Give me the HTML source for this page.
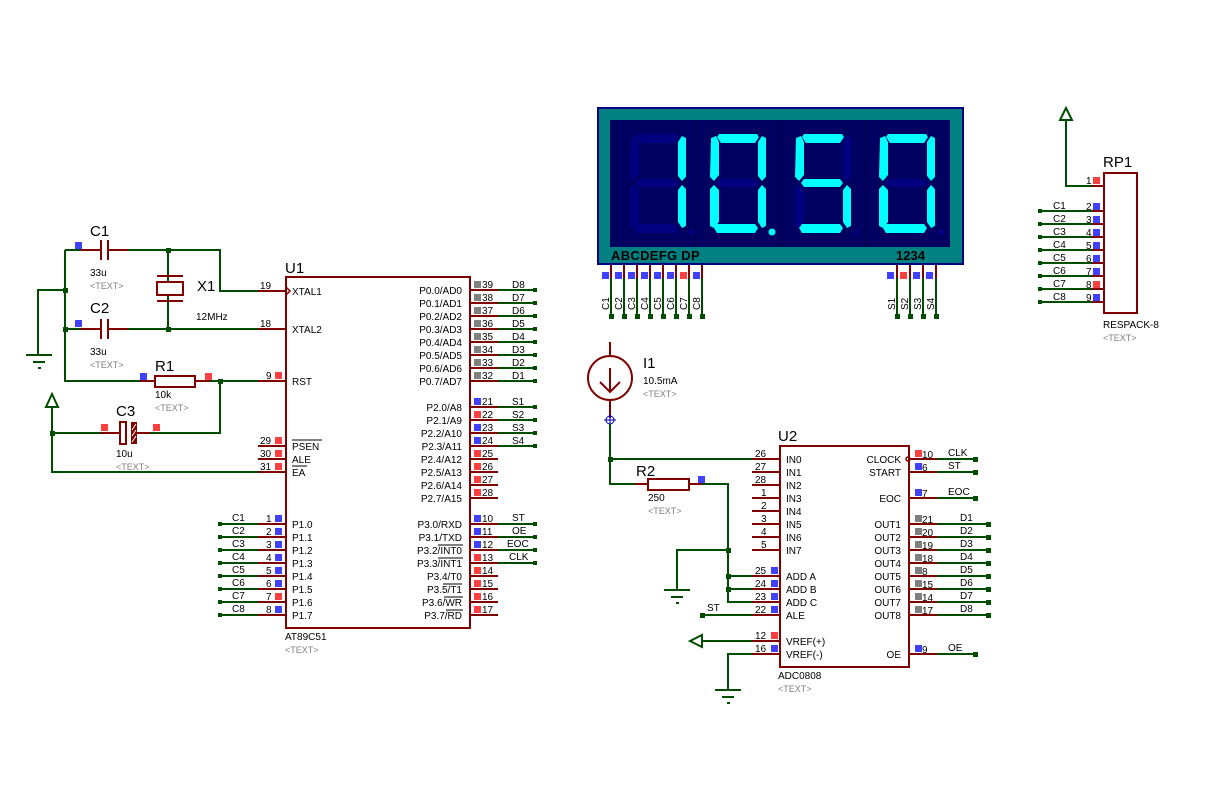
<!DOCTYPE html>
<html><head><meta charset="utf-8"><style>
html,body{margin:0;padding:0;background:#fff}
svg{display:block}
text{font-family:"Liberation Sans",sans-serif;font-size:10px;fill:#000}
.t{font-size:15px}
.g{fill:#808080;font-size:9px}
.w{stroke:#004d00;stroke-width:2;fill:none}
.p{stroke:#800000;stroke-width:2;fill:none}
.b{stroke:#800000;stroke-width:2;fill:#fff}
.bl{fill:#4040ff}.rd{fill:#ff4040}.gy{fill:#808080}.dt{fill:#004d00}
.off{fill:#000080}.on{fill:#00ffff}
</style></head><body>
<svg width="1215" height="800" viewBox="0 0 1215 800" xmlns="http://www.w3.org/2000/svg">
<rect width="1215" height="800" fill="#fff"/>
<defs>
<polygon id="sT" points="24,134 62,134 64,137 60,143 26,143 22,137"/>
<polygon id="sM" points="24,179 60,179 63,183 60,187 24,187 21,183"/>
<polygon id="sB" points="22,224 60,224 63,228 60,233 22,233 19,228"/>
<polygon id="sUL" points="16,138 21,136 24,142 24,175 19,181 15,177"/>
<polygon id="sUR" points="63,142 67,136 71,138 71,177 67,181 63,176"/>
<polygon id="sLL" points="15,189 19,185 24,190 24,222 19,228 15,226"/>
<polygon id="sLR" points="63,190 67,185 71,189 71,226 67,228 63,222"/>
</defs>

<!-- ===== Left oscillator/reset ===== -->
<path class="w" d="M65,250 H100 M108,250 H220 V291 H258 M65,250 V381 H155 M195,381 H258 M65,290 H38 V355 M65,329 H100 M108,329 H258 M168,250 V281 M168,296 V329 M220,381 V433 H135 M120,433 H52 M52,405 V472 H258"/>
<path class="p" d="M80,250 H100 M108,250 H128 M80,329 H100 M108,329 H128 M140,381 H155 M195,381 H210 M100,433 H120 M135,433 H150"/>
<path class="p" d="M101,240 V260 M108,240 V260 M101,319 V339 M108,319 V339"/>
<rect x="155" y="376" width="40" height="11" class="b"/>
<path class="p" d="M157,276 H183 M157,301 H183"/>
<rect x="157" y="282" width="26" height="13" class="b"/>
<rect x="120" y="422" width="6" height="22" class="b"/>
<rect x="131" y="422" width="6" height="22" fill="#800000"/>
<path d="M132,442 L136,436 M132,436 L136,430 M132,430 L136,424" stroke="#fff" stroke-width="1"/>
<g class="dt"><rect x="166" y="248" width="5" height="5"/><rect x="63" y="288" width="5" height="5"/><rect x="63" y="327" width="5" height="5"/><rect x="166" y="327" width="5" height="5"/><rect x="218" y="379" width="5" height="5"/><rect x="50" y="431" width="5" height="5"/></g>
<path class="w" d="M26,355 H52 M33,362 H45 M38,368 H41"/>
<path d="M52,394 L46,407 H58 Z" fill="#fff" stroke="#004d00" stroke-width="2"/>
<rect class="bl" x="75" y="242" width="7" height="7"/><rect class="bl" x="75" y="320" width="7" height="7"/>
<rect class="bl" x="140" y="373" width="7" height="7"/><rect class="rd" x="205" y="373" width="7" height="7"/>
<rect class="rd" x="101" y="424" width="7" height="7"/><rect class="rd" x="153" y="424" width="7" height="7"/>
<text x="90" y="236" class="t">C1</text><text x="90" y="276">33u</text><text x="90" y="289" class="g">&lt;TEXT&gt;</text>
<text x="90" y="313" class="t">C2</text><text x="90" y="355">33u</text><text x="90" y="368" class="g">&lt;TEXT&gt;</text>
<text x="197" y="291" class="t">X1</text><text x="196" y="320">12MHz</text>
<text x="155" y="371" class="t">R1</text><text x="155" y="398">10k</text><text x="155" y="411" class="g">&lt;TEXT&gt;</text>
<text x="116" y="416" class="t">C3</text><text x="116" y="457">10u</text><text x="116" y="470" class="g">&lt;TEXT&gt;</text>

<!-- ===== U1 ===== -->
<rect x="286" y="277" width="184" height="351" class="b"/>
<text x="285" y="273" class="t">U1</text>
<text x="285" y="640">AT89C51</text><text x="285" y="653" class="g">&lt;TEXT&gt;</text>
<path class="p" d="M258,291 H286 M258,329 H286 M258,381 H286 M258,446 H286 M258,459 H286 M258,472 H286 M258,524 H286 M258,537 H286 M258,550 H286 M258,563 H286 M258,576 H286 M258,589 H286 M258,602 H286 M258,615 H286"/>
<path d="M286,287 L290,291 L286,295" stroke="#800000" stroke-width="1.5" fill="none"/>
<g>
<text x="260" y="289">19</text><text x="260" y="327">18</text><text x="266" y="379">9</text>
<text x="260" y="444">29</text><text x="260" y="457">30</text><text x="260" y="470">31</text>
<text x="266" y="522">1</text><text x="266" y="535">2</text><text x="266" y="548">3</text><text x="266" y="561">4</text><text x="266" y="574">5</text><text x="266" y="587">6</text><text x="266" y="600">7</text><text x="266" y="613">8</text>
</g>
<rect class="rd" x="275" y="372" width="7" height="7"/>
<rect class="rd" x="275" y="437" width="7" height="7"/><rect class="rd" x="275" y="450" width="7" height="7"/><rect class="rd" x="275" y="463" width="7" height="7"/>
<g class="bl"><rect x="275" y="515" width="7" height="7"/><rect x="275" y="528" width="7" height="7"/><rect x="275" y="541" width="7" height="7"/><rect x="275" y="554" width="7" height="7"/><rect x="275" y="567" width="7" height="7"/><rect x="275" y="580" width="7" height="7"/><rect x="275" y="606" width="7" height="7"/></g>
<rect class="rd" x="275" y="593" width="7" height="7"/>
<g>
<text x="292" y="295">XTAL1</text><text x="292" y="333">XTAL2</text><text x="292" y="385">RST</text>
<text x="292" y="450">PSEN</text><text x="292" y="463">ALE</text><text x="292" y="476">EA</text>
<text x="292" y="528">P1.0</text><text x="292" y="541">P1.1</text><text x="292" y="554">P1.2</text><text x="292" y="567">P1.3</text><text x="292" y="580">P1.4</text><text x="292" y="593">P1.5</text><text x="292" y="606">P1.6</text><text x="292" y="619">P1.7</text>
</g>
<path d="M292,440 H322 M292,466 H307" stroke="#000" stroke-width="1"/>
<path class="w" d="M220,524 H258 M220,537 H258 M220,550 H258 M220,563 H258 M220,576 H258 M220,589 H258 M220,602 H258 M220,615 H258"/>
<g class="dt"><rect x="218" y="522" width="4" height="4"/><rect x="218" y="535" width="4" height="4"/><rect x="218" y="548" width="4" height="4"/><rect x="218" y="561" width="4" height="4"/><rect x="218" y="574" width="4" height="4"/><rect x="218" y="587" width="4" height="4"/><rect x="218" y="600" width="4" height="4"/><rect x="218" y="613" width="4" height="4"/></g>
<g><text x="232" y="521">C1</text><text x="232" y="534">C2</text><text x="232" y="547">C3</text><text x="232" y="560">C4</text><text x="232" y="573">C5</text><text x="232" y="586">C6</text><text x="232" y="599">C7</text><text x="232" y="612">C8</text></g>

<!-- U1 right -->
<path class="p" d="M470,290 H498 M470,303 H498 M470,316 H498 M470,329 H498 M470,342 H498 M470,355 H498 M470,368 H498 M470,381 H498 M470,407 H498 M470,420 H498 M470,433 H498 M470,446 H498 M470,459 H498 M470,472 H498 M470,485 H498 M470,498 H498 M470,524 H498 M470,537 H498 M470,550 H498 M470,563 H498 M470,576 H498 M470,589 H498 M470,602 H498 M470,615 H498"/>
<g text-anchor="end">
<text x="462" y="294">P0.0/AD0</text><text x="462" y="307">P0.1/AD1</text><text x="462" y="320">P0.2/AD2</text><text x="462" y="333">P0.3/AD3</text><text x="462" y="346">P0.4/AD4</text><text x="462" y="359">P0.5/AD5</text><text x="462" y="372">P0.6/AD6</text><text x="462" y="385">P0.7/AD7</text>
<text x="462" y="411">P2.0/A8</text><text x="462" y="424">P2.1/A9</text><text x="462" y="437">P2.2/A10</text><text x="462" y="450">P2.3/A11</text><text x="462" y="463">P2.4/A12</text><text x="462" y="476">P2.5/A13</text><text x="462" y="489">P2.6/A14</text><text x="462" y="502">P2.7/A15</text>
<text x="462" y="528">P3.0/RXD</text><text x="462" y="541">P3.1/TXD</text><text x="462" y="554">P3.2/INT0</text><text x="462" y="567">P3.3/INT1</text><text x="462" y="580">P3.4/T0</text><text x="462" y="593">P3.5/T1</text><text x="462" y="606">P3.6/WR</text><text x="462" y="619">P3.7/RD</text>
</g>
<path d="M438,545 H463 M438,558 H463 M443,584 H462 M444,597 H463 M446,610 H463" stroke="#000" stroke-width="1"/>
<g class="gy"><rect x="474" y="281" width="7" height="7"/><rect x="474" y="294" width="7" height="7"/><rect x="474" y="307" width="7" height="7"/><rect x="474" y="320" width="7" height="7"/><rect x="474" y="333" width="7" height="7"/><rect x="474" y="346" width="7" height="7"/><rect x="474" y="359" width="7" height="7"/><rect x="474" y="372" width="7" height="7"/></g>
<g class="bl"><rect x="474" y="398" width="7" height="7"/><rect x="474" y="424" width="7" height="7"/><rect x="474" y="437" width="7" height="7"/><rect x="474" y="515" width="7" height="7"/><rect x="474" y="528" width="7" height="7"/><rect x="474" y="541" width="7" height="7"/></g>
<g class="rd"><rect x="474" y="411" width="7" height="7"/><rect x="474" y="450" width="7" height="7"/><rect x="474" y="463" width="7" height="7"/><rect x="474" y="476" width="7" height="7"/><rect x="474" y="489" width="7" height="7"/><rect x="474" y="554" width="7" height="7"/><rect x="474" y="567" width="7" height="7"/><rect x="474" y="580" width="7" height="7"/><rect x="474" y="593" width="7" height="7"/><rect x="474" y="606" width="7" height="7"/></g>
<g>
<text x="482" y="288">39</text><text x="482" y="301">38</text><text x="482" y="314">37</text><text x="482" y="327">36</text><text x="482" y="340">35</text><text x="482" y="353">34</text><text x="482" y="366">33</text><text x="482" y="379">32</text>
<text x="482" y="405">21</text><text x="482" y="418">22</text><text x="482" y="431">23</text><text x="482" y="444">24</text><text x="482" y="457">25</text><text x="482" y="470">26</text><text x="482" y="483">27</text><text x="482" y="496">28</text>
<text x="482" y="522">10</text><text x="482" y="535">11</text><text x="482" y="548">12</text><text x="482" y="561">13</text><text x="482" y="574">14</text><text x="482" y="587">15</text><text x="482" y="600">16</text><text x="482" y="613">17</text>
</g>
<path class="w" d="M498,290 H535 M498,303 H535 M498,316 H535 M498,329 H535 M498,342 H535 M498,355 H535 M498,368 H535 M498,381 H535 M498,407 H535 M498,420 H535 M498,433 H535 M498,446 H535 M498,524 H535 M498,537 H535 M498,550 H535 M498,563 H535"/>
<g class="dt"><rect x="533" y="288" width="4" height="4"/><rect x="533" y="301" width="4" height="4"/><rect x="533" y="314" width="4" height="4"/><rect x="533" y="327" width="4" height="4"/><rect x="533" y="340" width="4" height="4"/><rect x="533" y="353" width="4" height="4"/><rect x="533" y="366" width="4" height="4"/><rect x="533" y="379" width="4" height="4"/><rect x="533" y="405" width="4" height="4"/><rect x="533" y="418" width="4" height="4"/><rect x="533" y="431" width="4" height="4"/><rect x="533" y="444" width="4" height="4"/><rect x="533" y="522" width="4" height="4"/><rect x="533" y="535" width="4" height="4"/><rect x="533" y="548" width="4" height="4"/><rect x="533" y="561" width="4" height="4"/></g>
<g>
<text x="512" y="288">D8</text><text x="512" y="301">D7</text><text x="512" y="314">D6</text><text x="512" y="327">D5</text><text x="512" y="340">D4</text><text x="512" y="353">D3</text><text x="512" y="366">D2</text><text x="512" y="379">D1</text>
<text x="512" y="405">S1</text><text x="512" y="418">S2</text><text x="512" y="431">S3</text><text x="512" y="444">S4</text>
<text x="512" y="521">ST</text><text x="512" y="534">OE</text><text x="507" y="547">EOC</text><text x="509" y="560">CLK</text>
</g>

<!-- ===== Display ===== -->
<rect x="598" y="108" width="365" height="156" fill="#008080" stroke="#000080" stroke-width="2"/>
<rect x="610" y="120" width="340" height="127" fill="#000060"/>
<path d="M695,120 V247 M780,120 V247 M865,120 V247" stroke="#00004a" stroke-width="1"/>
<g transform="translate(615,0)">
<use href="#sT" class="off"/><use href="#sM" class="off"/><use href="#sB" class="off"/><use href="#sUL" class="off"/><use href="#sLL" class="off"/>
<use href="#sUR" class="on"/><use href="#sLR" class="on"/><circle cx="77" cy="232" r="3" class="off"/>
</g>
<g transform="translate(695,0)">
<use href="#sM" class="off"/>
<use href="#sT" class="on"/><use href="#sB" class="on"/><use href="#sUL" class="on"/><use href="#sLL" class="on"/><use href="#sUR" class="on"/><use href="#sLR" class="on"/><circle cx="77" cy="232" r="3.5" class="on"/>
</g>
<g transform="translate(780,0)">
<use href="#sUR" class="off"/><use href="#sLL" class="off"/>
<use href="#sT" class="on"/><use href="#sM" class="on"/><use href="#sB" class="on"/><use href="#sUL" class="on"/><use href="#sLR" class="on"/><circle cx="77" cy="232" r="3" class="off"/>
</g>
<g transform="translate(864,0)">
<use href="#sM" class="off"/>
<use href="#sT" class="on"/><use href="#sB" class="on"/><use href="#sUL" class="on"/><use href="#sLL" class="on"/><use href="#sUR" class="on"/><use href="#sLR" class="on"/><circle cx="77" cy="232" r="3" class="off"/>
</g>
<text x="611" y="260" style="font-weight:bold;font-size:13px;letter-spacing:0.3px">ABCDEFG DP</text>
<text x="896" y="260" style="font-weight:bold;font-size:13px">1234</text>
<path class="p" d="M611,265 V278 M624,265 V278 M637,265 V278 M650,265 V278 M663,265 V278 M676,265 V278 M689,265 V278 M702,265 V278 M897,265 V278 M910,265 V278 M923,265 V278 M936,265 V278"/>
<path class="w" d="M611,278 V316 M624,278 V316 M637,278 V316 M650,278 V316 M663,278 V316 M676,278 V316 M689,278 V316 M702,278 V316 M897,278 V316 M910,278 V316 M923,278 V316 M936,278 V316"/>
<g class="dt"><rect x="609" y="314" width="5" height="5"/><rect x="622" y="314" width="5" height="5"/><rect x="635" y="314" width="5" height="5"/><rect x="648" y="314" width="5" height="5"/><rect x="661" y="314" width="5" height="5"/><rect x="674" y="314" width="5" height="5"/><rect x="687" y="314" width="5" height="5"/><rect x="700" y="314" width="5" height="5"/><rect x="895" y="314" width="5" height="5"/><rect x="908" y="314" width="5" height="5"/><rect x="921" y="314" width="5" height="5"/><rect x="934" y="314" width="5" height="5"/></g>
<g class="bl"><rect x="602" y="272" width="7" height="7"/><rect x="615" y="272" width="7" height="7"/><rect x="628" y="272" width="7" height="7"/><rect x="641" y="272" width="7" height="7"/><rect x="654" y="272" width="7" height="7"/><rect x="667" y="272" width="7" height="7"/><rect x="693" y="272" width="7" height="7"/><rect x="887" y="272" width="7" height="7"/><rect x="913" y="272" width="7" height="7"/><rect x="926" y="272" width="7" height="7"/></g>
<g class="rd"><rect x="680" y="272" width="7" height="7"/><rect x="900" y="272" width="7" height="7"/></g>
<g>
<text transform="translate(609,310) rotate(-90)">C1</text><text transform="translate(622,310) rotate(-90)">C2</text><text transform="translate(635,310) rotate(-90)">C3</text><text transform="translate(648,310) rotate(-90)">C4</text><text transform="translate(661,310) rotate(-90)">C5</text><text transform="translate(674,310) rotate(-90)">C6</text><text transform="translate(687,310) rotate(-90)">C7</text><text transform="translate(700,310) rotate(-90)">C8</text>
<text transform="translate(895,310) rotate(-90)">S1</text><text transform="translate(908,310) rotate(-90)">S2</text><text transform="translate(921,310) rotate(-90)">S3</text><text transform="translate(934,310) rotate(-90)">S4</text>
</g>

<!-- ===== I1 ===== -->
<path class="p" d="M610,342 V356 M610,400 V418"/>
<circle cx="610" cy="378" r="22" class="b"/>
<path class="p" d="M610,368 V392 M600,382 L610,392 L620,382"/>
<circle cx="610" cy="420" r="4" fill="none" stroke="#0000c0" stroke-width="1"/>
<path d="M604,420 H616 M610,414 V426" stroke="#0000c0" stroke-width="1"/>
<text x="643" y="368" class="t">I1</text><text x="643" y="384">10.5mA</text><text x="643" y="397" class="g">&lt;TEXT&gt;</text>

<!-- ===== U2 wiring ===== -->
<path class="w" d="M610,424 V484 H635 M610,459 H752 M702,484 H728 V602 H752 M728,550 H677 V590 M728,576 H752 M728,589 H752 M702,615 H752 M702,641 H752 M752,654 H728 V690"/>
<path class="p" d="M635,484 H648 M689,484 H702"/>
<rect x="648" y="479" width="41" height="11" class="b"/>
<g class="dt"><rect x="608" y="457" width="5" height="5"/><rect x="726" y="548" width="5" height="5"/><rect x="726" y="574" width="5" height="5"/><rect x="726" y="587" width="5" height="5"/><rect x="700" y="613" width="5" height="5"/></g>
<path class="w" d="M664,590 H690 M671,597 H683 M676,603 H679 M715,690 H741 M722,697 H734 M727,703 H730"/>
<path d="M690,641 L702,635 V647 Z" fill="#fff" stroke="#004d00" stroke-width="2"/>
<rect class="bl" x="698" y="476" width="7" height="7"/>
<text x="636" y="476" class="t">R2</text><text x="648" y="501">250</text><text x="648" y="514" class="g">&lt;TEXT&gt;</text>
<text x="707" y="611">ST</text>

<!-- ===== U2 ===== -->
<rect x="780" y="446" width="129" height="221" class="b"/>
<text x="778" y="441" class="t">U2</text>
<text x="778" y="679">ADC0808</text><text x="778" y="692" class="g">&lt;TEXT&gt;</text>
<path class="p" d="M752,459 H780 M752,472 H780 M752,485 H780 M752,498 H780 M752,511 H780 M752,524 H780 M752,537 H780 M752,550 H780 M752,576 H780 M752,589 H780 M752,602 H780 M752,615 H780 M752,641 H780 M752,654 H780 M909,459 H937 M909,472 H937 M909,498 H937 M909,524 H937 M909,537 H937 M909,550 H937 M909,563 H937 M909,576 H937 M909,589 H937 M909,602 H937 M909,615 H937 M909,654 H937"/>
<circle cx="908" cy="459" r="2" fill="none" stroke="#800000" stroke-width="1.5"/>
<g>
<text x="755" y="457">26</text><text x="755" y="470">27</text><text x="755" y="483">28</text><text x="761" y="496">1</text><text x="761" y="509">2</text><text x="761" y="522">3</text><text x="761" y="535">4</text><text x="761" y="548">5</text>
<text x="755" y="574">25</text><text x="755" y="587">24</text><text x="755" y="600">23</text><text x="755" y="613">22</text><text x="755" y="639">12</text><text x="755" y="652">16</text>
<text x="786" y="463">IN0</text><text x="786" y="476">IN1</text><text x="786" y="489">IN2</text><text x="786" y="502">IN3</text><text x="786" y="515">IN4</text><text x="786" y="528">IN5</text><text x="786" y="541">IN6</text><text x="786" y="554">IN7</text>
<text x="786" y="580">ADD A</text><text x="786" y="593">ADD B</text><text x="786" y="606">ADD C</text><text x="786" y="619">ALE</text><text x="786" y="645">VREF(+)</text><text x="786" y="658">VREF(-)</text>
</g>
<g text-anchor="end">
<text x="901" y="463">CLOCK</text><text x="901" y="476">START</text><text x="901" y="502">EOC</text>
<text x="901" y="528">OUT1</text><text x="901" y="541">OUT2</text><text x="901" y="554">OUT3</text><text x="901" y="567">OUT4</text><text x="901" y="580">OUT5</text><text x="901" y="593">OUT6</text><text x="901" y="606">OUT7</text><text x="901" y="619">OUT8</text><text x="901" y="658">OE</text>
</g>
<g class="bl"><rect x="771" y="567" width="7" height="7"/><rect x="771" y="580" width="7" height="7"/><rect x="771" y="593" width="7" height="7"/><rect x="771" y="606" width="7" height="7"/><rect x="771" y="645" width="7" height="7"/><rect x="915" y="463" width="7" height="7"/><rect x="915" y="489" width="7" height="7"/><rect x="915" y="645" width="7" height="7"/></g>
<g class="rd"><rect x="771" y="632" width="7" height="7"/><rect x="915" y="450" width="7" height="7"/></g>
<g class="gy"><rect x="915" y="515" width="7" height="7"/><rect x="915" y="528" width="7" height="7"/><rect x="915" y="541" width="7" height="7"/><rect x="915" y="554" width="7" height="7"/><rect x="915" y="567" width="7" height="7"/><rect x="915" y="580" width="7" height="7"/><rect x="915" y="593" width="7" height="7"/><rect x="915" y="606" width="7" height="7"/></g>
<g>
<text x="922" y="458">10</text><text x="922" y="471">6</text><text x="922" y="497">7</text>
<text x="922" y="523">21</text><text x="922" y="536">20</text><text x="922" y="549">19</text><text x="922" y="562">18</text><text x="922" y="575">8</text><text x="922" y="588">15</text><text x="922" y="601">14</text><text x="922" y="614">17</text><text x="922" y="653">9</text>
</g>
<path class="w" d="M937,459 H975 M937,472 H975 M937,498 H975 M937,654 H975 M937,524 H988 M937,537 H988 M937,550 H988 M937,563 H988 M937,576 H988 M937,589 H988 M937,602 H988 M937,615 H988"/>
<g class="dt"><rect x="973" y="457" width="5" height="5"/><rect x="973" y="470" width="5" height="5"/><rect x="973" y="496" width="5" height="5"/><rect x="973" y="652" width="5" height="5"/><rect x="986" y="522" width="5" height="5"/><rect x="986" y="535" width="5" height="5"/><rect x="986" y="548" width="5" height="5"/><rect x="986" y="561" width="5" height="5"/><rect x="986" y="574" width="5" height="5"/><rect x="986" y="587" width="5" height="5"/><rect x="986" y="600" width="5" height="5"/><rect x="986" y="613" width="5" height="5"/></g>
<g>
<text x="948" y="456">CLK</text><text x="948" y="469">ST</text><text x="948" y="495">EOC</text><text x="948" y="651">OE</text>
<text x="960" y="521">D1</text><text x="960" y="534">D2</text><text x="960" y="547">D3</text><text x="960" y="560">D4</text><text x="960" y="573">D5</text><text x="960" y="586">D6</text><text x="960" y="599">D7</text><text x="960" y="612">D8</text>
</g>

<!-- ===== RP1 ===== -->
<rect x="1104" y="173" width="33" height="140" class="b"/>
<text x="1103" y="167" class="t">RP1</text>
<text x="1103" y="328">RESPACK-8</text><text x="1103" y="341" class="g">&lt;TEXT&gt;</text>
<path class="w" d="M1066,120 V186 H1092 M1040,211 H1092 M1040,224 H1092 M1040,237 H1092 M1040,250 H1092 M1040,263 H1092 M1040,276 H1092 M1040,289 H1092 M1040,302 H1092"/>
<path d="M1066,108 L1060,120 H1072 Z" fill="#fff" stroke="#004d00" stroke-width="2"/>
<path class="p" d="M1092,186 H1104 M1092,211 H1104 M1092,224 H1104 M1092,237 H1104 M1092,250 H1104 M1092,263 H1104 M1092,276 H1104 M1092,289 H1104 M1092,302 H1104"/>
<g class="dt"><rect x="1038" y="209" width="4" height="4"/><rect x="1038" y="222" width="4" height="4"/><rect x="1038" y="235" width="4" height="4"/><rect x="1038" y="248" width="4" height="4"/><rect x="1038" y="261" width="4" height="4"/><rect x="1038" y="274" width="4" height="4"/><rect x="1038" y="287" width="4" height="4"/><rect x="1038" y="300" width="4" height="4"/></g>
<g class="bl"><rect x="1093" y="203" width="7" height="7"/><rect x="1093" y="216" width="7" height="7"/><rect x="1093" y="229" width="7" height="7"/><rect x="1093" y="242" width="7" height="7"/><rect x="1093" y="255" width="7" height="7"/><rect x="1093" y="268" width="7" height="7"/><rect x="1093" y="294" width="7" height="7"/></g>
<g class="rd"><rect x="1093" y="177" width="7" height="7"/><rect x="1093" y="281" width="7" height="7"/></g>
<g>
<text x="1086" y="184">1</text><text x="1086" y="210">2</text><text x="1086" y="223">3</text><text x="1086" y="236">4</text><text x="1086" y="249">5</text><text x="1086" y="262">6</text><text x="1086" y="275">7</text><text x="1086" y="288">8</text><text x="1086" y="301">9</text>
<text x="1053" y="209">C1</text><text x="1053" y="222">C2</text><text x="1053" y="235">C3</text><text x="1053" y="248">C4</text><text x="1053" y="261">C5</text><text x="1053" y="274">C6</text><text x="1053" y="287">C7</text><text x="1053" y="300">C8</text>
</g>
</svg>
</body></html>
